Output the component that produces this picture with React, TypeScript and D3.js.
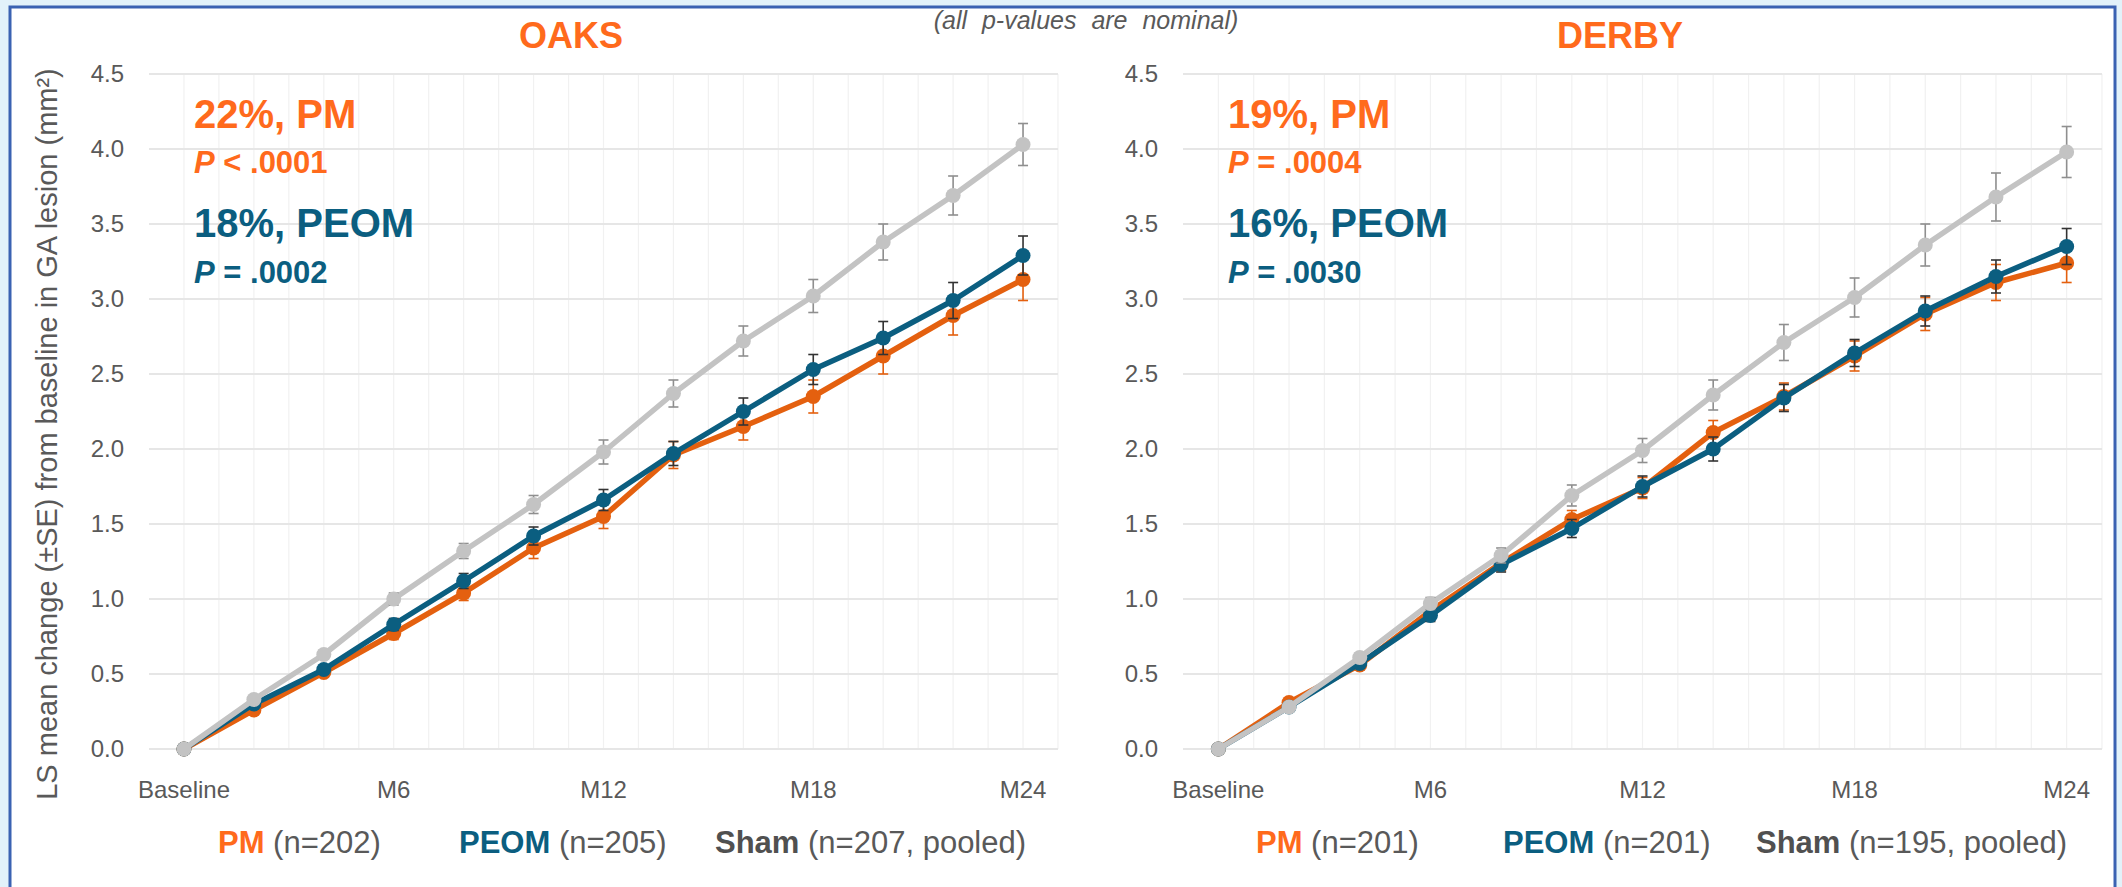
import React from "react";
import * as d3 from "d3";

const months = [0, 2, 4, 6, 8, 10, 12, 14, 16, 18, 20, 22, 24];
const xTickMonths = [0, 6, 12, 18, 24];
const xTickLabels = ["Baseline", "M6", "M12", "M18", "M24"];
const yTicks = [0, 0.5, 1, 1.5, 2, 2.5, 3, 3.5, 4, 4.5];
const gridMonths = d3.range(0, 26);

// OAKS
const oaksPM = [0, 0.26, 0.51, 0.77, 1.04, 1.34, 1.55, 1.96, 2.15, 2.35, 2.62, 2.89, 3.13];
const oaksPMse = [0, 0.02, 0.03, 0.04, 0.05, 0.07, 0.08, 0.09, 0.09, 0.11, 0.12, 0.13, 0.14];
const oaksPEOM = [0, 0.3, 0.53, 0.83, 1.12, 1.42, 1.66, 1.97, 2.25, 2.53, 2.74, 2.99, 3.29];
const oaksPEOMse = [0, 0.02, 0.03, 0.04, 0.05, 0.06, 0.07, 0.08, 0.09, 0.1, 0.11, 0.12, 0.13];
const oaksSham = [0, 0.33, 0.63, 1.0, 1.32, 1.63, 1.98, 2.37, 2.72, 3.02, 3.38, 3.69, 4.03];
const oaksShamSe = [0, 0.02, 0.03, 0.04, 0.05, 0.06, 0.08, 0.09, 0.1, 0.11, 0.12, 0.13, 0.14];

// DERBY
const derbyPM = [0, 0.31, 0.56, 0.92, 1.24, 1.53, 1.74, 2.11, 2.35, 2.62, 2.9, 3.11, 3.24];
const derbyPMse = [0, 0.02, 0.03, 0.04, 0.05, 0.06, 0.07, 0.08, 0.09, 0.1, 0.11, 0.12, 0.13];
const derbyPEOM = [0, 0.28, 0.57, 0.89, 1.23, 1.47, 1.75, 2.0, 2.34, 2.64, 2.92, 3.15, 3.35];
const derbyPEOMse = [0, 0.02, 0.03, 0.04, 0.05, 0.06, 0.07, 0.08, 0.09, 0.09, 0.1, 0.11, 0.12];
const derbySham = [0, 0.28, 0.61, 0.97, 1.29, 1.69, 1.99, 2.36, 2.71, 3.01, 3.36, 3.68, 3.98];
const derbyShamSe = [0, 0.02, 0.03, 0.04, 0.05, 0.07, 0.08, 0.1, 0.12, 0.13, 0.14, 0.16, 0.17];

const FONT = "'Liberation Sans', Arial, sans-serif";
const ORANGE_LINE = "#E4600F";
const ORANGE_TEXT = "#FF6A1C";
const BLUE = "#0B5E80";
const GRAY_LINE = "#C3C3C3";
const TICK_COLOR = "#595959";

type Series = { vals: number[]; se: number[]; color: string; bar: string };

const Panel = (props: {
  x0: number;
  x1: number;
  title: string;
  titleX: number;
  series: Series[];
  pm: [string, string];
  peom: [string, string];
  legend: { x: number; name: string; rest: string; color: string }[];
}) => {
  const { x0, x1, series } = props;
  const x = d3.scaleLinear().domain([-1, 25]).range([x0, x1]);
  const y = d3.scaleLinear().domain([0, 4.5]).range([749, 74]);
  const line = d3
    .line<number>()
    .x((d, i) => x(months[i]))
    .y((d) => y(d));

  return (
    <g>
      {/* vertical minor gridlines */}
      {gridMonths.map((m) => (
        <line key={"v" + m} x1={x(m)} x2={x(m)} y1={y(4.5)} y2={y(0)} stroke="#F1F1F1" strokeWidth={1.2} />
      ))}
      {/* horizontal gridlines */}
      {yTicks.map((t) => (
        <line key={"h" + t} x1={x0} x2={x1} y1={y(t)} y2={y(t)} stroke="#E6E6E6" strokeWidth={2} />
      ))}
      {yTicks.map((t) => (
        <text key={"yt" + t} x={x0 - 25} y={y(t) + 8} textAnchor="end" fontSize={24} fill={TICK_COLOR} fontFamily={FONT}>
          {t.toFixed(1)}
        </text>
      ))}
      {xTickMonths.map((m, i) => (
        <text key={"xt" + m} x={x(m)} y={798} textAnchor="middle" fontSize={24} fill={TICK_COLOR} fontFamily={FONT}>
          {xTickLabels[i]}
        </text>
      ))}
      <text x={props.titleX} y={48} textAnchor="middle" fontSize={36} fontWeight="bold" fill={ORANGE_TEXT} fontFamily={FONT}>
        {props.title}
      </text>

      {series.map((s, k) => (
        <g key={"s" + k}>
          <path d={line(s.vals) || ""} fill="none" stroke={s.color} strokeWidth={5.5} strokeLinejoin="round" />
          {s.vals.map((v, i) =>
            s.se[i] > 0 ? (
              <g key={"e" + i} stroke={s.bar} strokeWidth={1.6}>
                <line x1={x(months[i])} x2={x(months[i])} y1={y(v - s.se[i])} y2={y(v + s.se[i])} />
                <line x1={x(months[i]) - 5} x2={x(months[i]) + 5} y1={y(v - s.se[i])} y2={y(v - s.se[i])} />
                <line x1={x(months[i]) - 5} x2={x(months[i]) + 5} y1={y(v + s.se[i])} y2={y(v + s.se[i])} />
              </g>
            ) : null
          )}
          {s.vals.map((v, i) => (
            <circle key={"c" + i} cx={x(months[i])} cy={y(v)} r={7.5} fill={s.color} />
          ))}
        </g>
      ))}

      <g fontFamily={FONT} fontWeight="bold">
        <text x={x0 + 45} y={128} fontSize={40} fill={ORANGE_TEXT}>{props.pm[0]}</text>
        <text x={x0 + 45} y={173} fontSize={31} fill={ORANGE_TEXT}>
          <tspan fontStyle="italic">P</tspan>
          {props.pm[1]}
        </text>
        <text x={x0 + 45} y={237} fontSize={40} fill={BLUE}>{props.peom[0]}</text>
        <text x={x0 + 45} y={283} fontSize={31} fill={BLUE}>
          <tspan fontStyle="italic">P</tspan>
          {props.peom[1]}
        </text>
      </g>

      {props.legend.map((l) => (
        <text key={l.name} x={l.x} y={853} fontSize={31} fontFamily={FONT} fill={TICK_COLOR}>
          <tspan fontWeight="bold" fill={l.color}>{l.name}</tspan>
          <tspan>{" " + l.rest}</tspan>
        </text>
      ))}
    </g>
  );
};

export default function App() {
  const oaksSeries: Series[] = [
    { vals: oaksPM, se: oaksPMse, color: ORANGE_LINE, bar: ORANGE_LINE },
    { vals: oaksPEOM, se: oaksPEOMse, color: BLUE, bar: "#333333" },
    { vals: oaksSham, se: oaksShamSe, color: GRAY_LINE, bar: "#8F8F8F" },
  ];
  const derbySeries: Series[] = [
    { vals: derbyPM, se: derbyPMse, color: ORANGE_LINE, bar: ORANGE_LINE },
    { vals: derbyPEOM, se: derbyPEOMse, color: BLUE, bar: "#333333" },
    { vals: derbySham, se: derbyShamSe, color: GRAY_LINE, bar: "#8F8F8F" },
  ];

  return (
    <div style={{ position: "absolute", left: 0, top: 0 }}>
      <svg width={2122} height={887} style={{ display: "block" }}>
        <rect x={0} y={0} width={2122} height={887} fill="#E2F2FA" />
        <rect x={10} y={7} width={2105} height={900} fill="#FFFFFF" stroke="#3A62B2" strokeWidth={3} />

        <text
          x={1086}
          y={29}
          textAnchor="middle"
          fontSize={25}
          fontStyle="italic"
          wordSpacing={8}
          fill={TICK_COLOR}
          fontFamily={FONT}
        >
          (all p-values are nominal)
        </text>

        <text
          transform="translate(57, 434) rotate(-90)"
          textAnchor="middle"
          fontSize={29}
          fill={TICK_COLOR}
          fontFamily={FONT}
        >
          LS mean change (±SE) from baseline in GA lesion (mm²)
        </text>

        <Panel
          x0={149}
          x1={1058}
          title="OAKS"
          titleX={571}
          series={oaksSeries}
          pm={["22%, PM", " < .0001"]}
          peom={["18%, PEOM", " = .0002"]}
          legend={[
            { x: 218, name: "PM", rest: "(n=202)", color: ORANGE_TEXT },
            { x: 459, name: "PEOM", rest: "(n=205)", color: BLUE },
            { x: 715, name: "Sham", rest: "(n=207, pooled)", color: "#505050" },
          ]}
        />
        <Panel
          x0={1183}
          x1={2102}
          title="DERBY"
          titleX={1620}
          series={derbySeries}
          pm={["19%, PM", " = .0004"]}
          peom={["16%, PEOM", " = .0030"]}
          legend={[
            { x: 1256, name: "PM", rest: "(n=201)", color: ORANGE_TEXT },
            { x: 1503, name: "PEOM", rest: "(n=201)", color: BLUE },
            { x: 1756, name: "Sham", rest: "(n=195, pooled)", color: "#505050" },
          ]}
        />
      </svg>
    </div>
  );
}
